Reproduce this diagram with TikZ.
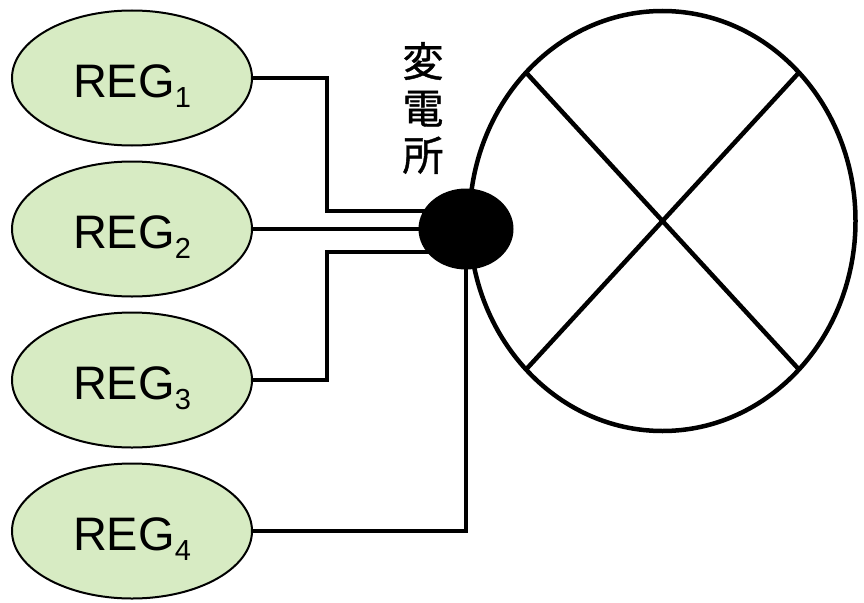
\documentclass[tikz,border=0pt]{standalone}
\usepackage{fontspec}
\setmainfont{Liberation Sans}
\newfontfamily\cjk[FakeBold=1]{Noto Sans CJK JP}
\usetikzlibrary{shapes.geometric}
\pgfdeclarelayer{bg}
\pgfsetlayers{bg,main}
\definecolor{regfill}{HTML}{D7EBC3}
\newcommand{\regl}[1]{\fontsize{47}{47}\selectfont REG\raisebox{-10pt}{\fontsize{29}{29}\selectfont #1}}
\begin{document}
\begin{tikzpicture}[x=1pt,y=-1pt,
  reg/.style={ellipse, draw=black, line width=2pt, fill=regfill, minimum width=240pt, minimum height=135pt, inner sep=0pt, outer sep=0pt, text height=48pt, text depth=10pt},
  subst/.style={ellipse, fill=black, minimum width=95pt, minimum height=81pt, inner sep=0pt, outer sep=0pt},
  area/.style={ellipse, draw=black, line width=4.5pt, minimum width=386pt, minimum height=420pt, inner sep=0pt, outer sep=0pt},
  wire/.style={line width=4.5pt, line join=miter},
  thinwire/.style={line width=3.5pt, line join=miter},
  cross/.style={line width=4.5pt}]
\useasboundingbox (0,0) rectangle (864,602);
\node[reg] (r1) at (132,78) {\regl{1}};
\node[reg] (r2) at (132,229) {\regl{2}};
\node[reg] (r3) at (132,380) {\regl{3}};
\node[reg] (r4) at (132,531) {\regl{4}};
\node[area] (big) at (662.5,221) {};
\draw[cross] (big.north west) -- (big.south east);
\draw[cross] (big.north east) -- (big.south west);
\node[subst] (dot) at (466,229) {};
\node[align=center, font=\cjk\fontsize{41}{47}\selectfont] (lbl) at (423,108) {変\\電\\所};
\coordinate (j1) at (327,211);
\coordinate (j3) at (327,252);
\begin{pgfonlayer}{bg}
\draw[wire] (r1.east) -| (j1) -- ([yshift=18pt]dot.center);
\draw[wire] (r2.east) -- (dot.center);
\draw[wire] (r3.east) -| (j3) -- ([yshift=-23pt]dot.center);
\draw[thinwire] (r4.east) -| (dot.center);
\end{pgfonlayer}
\end{tikzpicture}
\end{document}
